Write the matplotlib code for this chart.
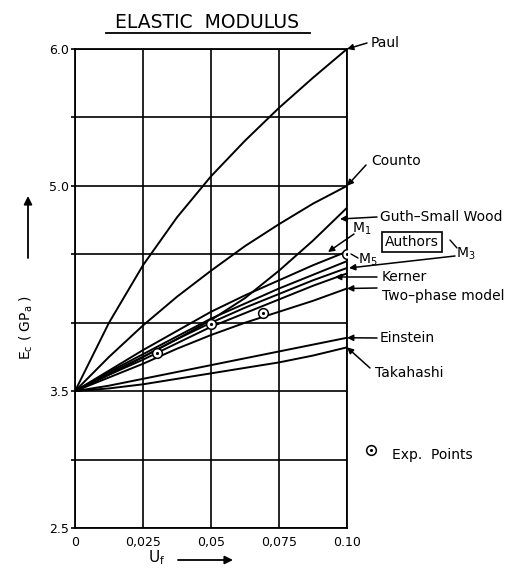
import numpy as np
import matplotlib
matplotlib.use("Agg")
import matplotlib.pyplot as plt

# ---------------- data ----------------
vf = [0.0, 0.0125, 0.025, 0.0375, 0.05, 0.0625, 0.075, 0.0875, 0.10]
paul      = [3.50, 4.00, 4.42, 4.77, 5.07, 5.33, 5.57, 5.79, 6.00]
counto    = [3.50, 3.75, 3.98, 4.19, 4.38, 4.56, 4.72, 4.87, 5.00]
guth      = [3.50, 3.62, 3.75, 3.88, 4.02, 4.18, 4.38, 4.60, 4.84]
m1        = [3.50, 3.65, 3.80, 3.94, 4.08, 4.20, 4.31, 4.42, 4.52]
m5        = [3.50, 3.64, 3.77, 3.90, 4.03, 4.14, 4.25, 4.35, 4.45]
m3        = [3.50, 3.63, 3.75, 3.88, 4.00, 4.11, 4.21, 4.31, 4.40]
kerner    = [3.50, 3.62, 3.73, 3.85, 3.97, 4.07, 4.17, 4.27, 4.36]
two_phase = [3.50, 3.60, 3.70, 3.81, 3.91, 4.00, 4.08, 4.16, 4.25]
einstein  = [3.50, 3.54, 3.59, 3.64, 3.69, 3.74, 3.79, 3.84, 3.89]
takahashi = [3.50, 3.52, 3.55, 3.59, 3.63, 3.67, 3.71, 3.76, 3.82]

exp_x = [0.030, 0.050, 0.069, 0.100]
exp_y = [3.78, 3.99, 4.07, 4.50]

xtick_vals = [0, 0.025, 0.05, 0.075, 0.10]
xtick_labels = ["0", "0,025", "0,05", "0,075", "0.10"]
ygrid_vals = [2.5, 3.0, 3.5, 4.0, 4.5, 5.0, 5.5, 6.0]
ytick_labels = ["2.5", "", "3.5", "", "", "5.0", "", "6.0"]

# ---------------- figure ----------------
plt.rcParams['font.family'] = ['DejaVu Sans']
fig = plt.figure(figsize=(5.31, 5.71), dpi=100)
ax = fig.add_axes([75/531, 1-528/571, 272/531, 479/571])
ax.set_xlim(0, 0.10)
ax.set_ylim(2.5, 6.0)

ax.set_xticks(xtick_vals)
ax.set_xticklabels(xtick_labels, fontsize=9)
ax.set_yticks(ygrid_vals)
ax.set_yticklabels(ytick_labels, fontsize=9)
ax.tick_params(axis='x', length=0, pad=6)
ax.tick_params(axis='y', length=3, width=1.2, pad=1)
ax.grid(True, color='black', lw=1.2)
ax.set_axisbelow(True)
for s in ax.spines.values():
    s.set_linewidth(1.3)

for ys in [paul, counto, guth, m1, m5, m3, kerner, two_phase, einstein, takahashi]:
    ax.plot(vf, ys, color='black', lw=1.4, solid_capstyle='round',
            solid_joinstyle='round', zorder=3)

ax.plot(exp_x, exp_y, 'o', ms=7, mfc='white', mec='black', mew=1.1, zorder=4)
ax.plot(exp_x, exp_y, '.', ms=2.5, color='black', zorder=5)

# ---------------- annotations ----------------
def px(x):
    return (x - 75) / 2720.0

def py(y):
    return 6.0 - (y - 49) / 136.86

arrow = dict(arrowstyle='-|>', color='black', lw=1.1, mutation_scale=9,
             shrinkA=0, shrinkB=0)
line = dict(arrowstyle='-', color='black', lw=1.0, shrinkA=0, shrinkB=0)

def lead(tail, tip, props=arrow):
    ax.annotate('', xy=tip, xytext=tail, xycoords='data', textcoords='data',
                arrowprops=props, annotation_clip=False)

def label(x, y, s, **kw):
    ax.text(x, y, s, fontsize=10, ha='left', va='center', clip_on=False, **kw)

# Paul
lead((px(367), py(43)), (0.10, 6.00))
label(px(371), py(43), "Paul")
# Counto
lead((px(366), py(165)), (0.10, 5.00))
label(px(371), py(161), "Counto")
# Guth-Small Wood
lead((px(377), py(217)), (px(340), py(219)))
label(px(380), py(217), "Guth\u2013Small Wood")
# Authors
ax.text(px(412), py(242), "Authors", fontsize=10, ha='center', va='center',
        clip_on=False,
        bbox=dict(boxstyle='square,pad=0.2', fc='white', ec='black', lw=1.2))
# M1
lead((px(354), py(234)), (px(328), py(252)))
label(px(352), py(229), r"M$_1$")
# M5
lead((px(358), py(258)), (px(351), py(254)), line)
label(px(358), py(260), r"M$_5$")
# M3
lead((px(455), py(256)), (px(349), py(268)))
lead((px(450), py(240)), (px(457), py(248)), line)
label(px(456), py(254), r"M$_3$")
# Kerner
lead((px(377), py(277)), (px(335), py(277)))
label(px(382), py(277), "Kerner")
# Two-phase model
lead((px(377), py(288)), (0.10, 4.25))
label(px(382), py(296), "Two\u2013phase model")
# Einstein
lead((px(377), py(338)), (0.10, 3.89))
label(px(380), py(338), "Einstein")
# Takahashi
lead((px(370), py(368)), (0.10, 3.82))
label(px(375), py(373), "Takahashi")
# Exp points legend
ax.plot([px(371)], [py(450)], 'o', ms=7, mfc='white', mec='black', mew=1.1,
        clip_on=False)
ax.plot([px(371)], [py(450)], '.', ms=2.5, color='black', clip_on=False)
label(px(392), py(455), "Exp.  Points")

# ---------------- titles / axis labels ----------------
fig.text(207/531, 1-23/571, "ELASTIC  MODULUS", fontsize=13.5, ha='center',
         va='center')
fig.add_artist(plt.Line2D([106/531, 310/531], [1-33/571, 1-33/571],
                          color='black', lw=1.3))

fig.text(26/531, 1-327/571, r"E$_{\rm c}$ ( GP$_{\rm a}$ )", fontsize=10,
         rotation=90, ha='center', va='center')
ax.annotate('', xy=(28/531, 1-196/571), xycoords='figure fraction',
            xytext=(28/531, 1-258/571), textcoords='figure fraction',
            arrowprops=dict(arrowstyle='-|>', color='black', lw=1.3,
                            mutation_scale=12, shrinkA=0, shrinkB=0))

fig.text(157/531, 1-558/571, r"U$_{\rm f}$", fontsize=11, ha='center',
         va='center')
ax.annotate('', xy=(233/531, 1-560/571), xycoords='figure fraction',
            xytext=(178/531, 1-560/571), textcoords='figure fraction',
            arrowprops=dict(arrowstyle='-|>', color='black', lw=1.3,
                            mutation_scale=12, shrinkA=0, shrinkB=0))

fig.savefig("out.png", dpi=100)
